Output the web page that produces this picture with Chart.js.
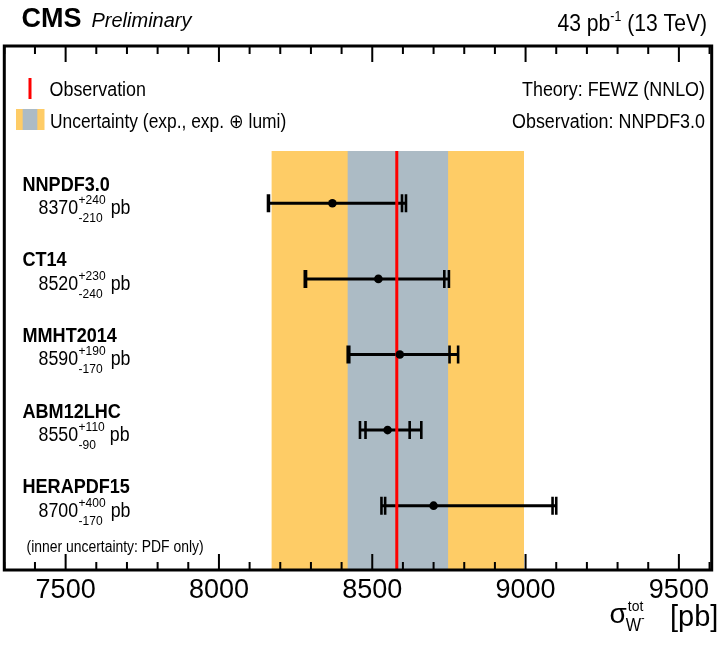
<!DOCTYPE html>
<html>
<head>
<meta charset="utf-8">
<script src="https://cdn.jsdelivr.net/npm/chart.js@4.4.1/dist/chart.umd.min.js"></script>
<style>
  html, body { margin: 0; padding: 0; background: #fff; }
  canvas { display: block; }
</style>
</head>
<body>
<canvas id="chart" width="727" height="646" style="width:727px;height:646px"></canvas>
<script>
// PDF sets and predicted W- cross sections [pb]
const pdfNames = ['NNPDF3.0', 'CT14', 'MMHT2014', 'ABM12LHC', 'HERAPDF15']
const central = [8370, 8520, 8590, 8550, 8700]
const errUp = [240, 230, 190, 110, 400]
const errDown = [210, 240, 170, 90, 170]
// inner error bars (PDF only)
const pdfLow = [8163, 8284, 8425, 8478, 8542]
const pdfHigh = [8597, 8735, 8752, 8622, 9088]

// measurement
const obsValue = 8580
const expBand = [8419, 8748]
const lumiBand = [8171, 8995]

const xMin = 7300
const xMax = 9607
const xTicks = [7500, 8000, 8500, 9000, 9500]

// row layout (rows are 0..4, reversed axis)
const yMin = -2.081
const yMax = 4.851
const bandTop = -0.692
const capHalf = 0.119

const FONT = "'Liberation Sans', Arial, Helvetica, sans-serif"
const YELLOW = 'rgb(254, 204, 102)'
const GREY = 'rgb(172, 187, 197)'
const RED = 'rgb(255, 0, 0)'

// build line segments separated by gaps
let barLines = []
let capLines = []
central.forEach((c, i) => {
  barLines.push({ x: c - errDown[i], y: i }, { x: c + errUp[i], y: i }, { x: c, y: null })
  ;[c - errDown[i], c + errUp[i], pdfLow[i], pdfHigh[i]].forEach((v) => {
    capLines.push({ x: v, y: i - capHalf }, { x: v, y: i + capHalf }, { x: v, y: null })
  })
})

// draws condensed text, returns its width
function txt(ctx, s, x, y, font, sx, align) {
  ctx.save()
  ctx.font = font
  ctx.fillStyle = '#000'
  ctx.textBaseline = 'alphabetic'
  const w = ctx.measureText(s).width * sx
  let x0 = x
  if (align === 'right') x0 = x - w
  ctx.translate(x0, y)
  ctx.scale(sx, 1)
  ctx.textAlign = 'left'
  ctx.fillText(s, 0, 0)
  ctx.restore()
  return w
}

function width(ctx, s, font, sx) {
  ctx.save()
  ctx.font = font
  const w = ctx.measureText(s).width * sx
  ctx.restore()
  return w
}

const cmsPlugin = {
  id: 'cmsText',
  afterDatasetsDraw(chart) {
    const { ctx, chartArea: a, scales } = chart
    const x = scales.x
    const y = scales.y

    // inward tick marks, top and bottom
    ctx.save()
    ctx.strokeStyle = '#000'
    ctx.lineWidth = 2
    for (let v = 7300; v <= 9600; v += 100) {
      const px = x.getPixelForValue(v)
      const len = v % 500 === 0 ? 16 : 8
      ctx.beginPath()
      ctx.moveTo(px, a.bottom)
      ctx.lineTo(px, a.bottom - len)
      ctx.moveTo(px, a.top)
      ctx.lineTo(px, a.top + len)
      ctx.stroke()
    }
    // frame
    ctx.lineWidth = 3
    ctx.strokeRect(a.left, a.top, a.right - a.left, a.bottom - a.top)
    ctx.restore()

    // header
    txt(ctx, 'CMS', 21.5, 27, 'bold 27px ' + FONT, 1)
    txt(ctx, 'Preliminary', 91.5, 27, 'italic 20px ' + FONT, 1)
    const hf = '24px ' + FONT
    const sf = '14px ' + FONT
    const tail = ' (13 TeV)'
    let wTail = width(ctx, tail, hf, 0.88)
    let wSup = width(ctx, '-1', sf, 0.88)
    let wHead = width(ctx, '43 pb', hf, 0.88)
    let hx = 707 - wTail - wSup - wHead
    hx += txt(ctx, '43 pb', hx, 31, hf, 0.88)
    hx += txt(ctx, '-1', hx, 21, sf, 0.88)
    txt(ctx, tail, hx, 31, hf, 0.88)

    // legend
    ctx.save()
    ctx.fillStyle = RED
    ctx.fillRect(28.5, 78, 3, 21)
    ctx.fillStyle = YELLOW
    ctx.fillRect(16, 109, 28.5, 21)
    ctx.fillStyle = GREY
    ctx.fillRect(22.7, 109, 14.6, 21)
    ctx.restore()
    const lf = '20px ' + FONT
    txt(ctx, 'Observation', 49.5, 96, lf, 0.895)
    txt(ctx, 'Uncertainty (exp., exp. \u2295 lumi)', 50, 128, lf, 0.87)
    txt(ctx, 'Theory: FEWZ (NNLO)', 705, 96, lf, 0.895, 'right')
    txt(ctx, 'Observation: NNPDF3.0', 705, 128, lf, 0.895, 'right')

    // row labels
    pdfNames.forEach((name, i) => {
      const py = y.getPixelForValue(i)
      txt(ctx, name, 22.5, py - 12.5, 'bold 21px ' + FONT, 0.86)
      let vx = 38.5
      const w1 = txt(ctx, String(central[i]), vx, py + 11, '20px ' + FONT, 0.89)
      vx += w1 + 0.5
      const wu = txt(ctx, '+' + errUp[i], vx, py + 1, '13.5px ' + FONT, 0.89)
      const wd = txt(ctx, '-' + errDown[i], vx, py + 19, '13.5px ' + FONT, 0.89)
      vx += Math.max(wu, wd) + 5
      txt(ctx, 'pb', vx, py + 11, '20px ' + FONT, 0.89)
    })
    txt(ctx, '(inner uncertainty: PDF only)', 26.5, 552, '16px ' + FONT, 0.87)

    // x axis title
    let ax = 609.5
    ax += txt(ctx, '\u03c3', ax, 623, '28px ' + FONT, 1)
    txt(ctx, 'tot', ax + 1, 611, '15.5px ' + FONT, 0.9)
    const ww = txt(ctx, 'W', ax - 1, 631, '18px ' + FONT, 0.9)
    txt(ctx, '-', ax - 1 + ww, 622, '12px ' + FONT, 0.9)
    txt(ctx, '[pb]', 670, 626, '29px ' + FONT, 1)
  }
}

const ctx = document.getElementById('chart').getContext('2d')

const chart = new Chart(ctx, {
  type: 'line',
  data: {
    datasets: [
      {
        // central values
        type: 'scatter',
        data: central.map((c, i) => ({ x: c, y: i })),
        pointRadius: 4.3,
        pointBackgroundColor: '#000',
        pointBorderWidth: 0,
        showLine: false,
      },
      {
        // observation
        data: [{ x: obsValue, y: bandTop }, { x: obsValue, y: yMax }],
        borderColor: RED,
        borderWidth: 3,
        pointRadius: 0,
        fill: false,
      },
      {
        data: capLines,
        borderColor: '#000',
        borderWidth: 2.6,
        borderCapStyle: 'butt',
        pointRadius: 0,
        spanGaps: false,
        fill: false,
      },
      {
        data: barLines,
        borderColor: '#000',
        borderWidth: 3,
        borderCapStyle: 'butt',
        pointRadius: 0,
        spanGaps: false,
        fill: false,
      },
      {
        // exp. uncertainty
        data: [{ x: expBand[0], y: bandTop }, { x: expBand[1], y: bandTop }],
        borderWidth: 0,
        pointRadius: 0,
        backgroundColor: GREY,
        fill: 'start',
      },
      {
        // exp. + lumi uncertainty
        data: [{ x: lumiBand[0], y: bandTop }, { x: lumiBand[1], y: bandTop }],
        borderWidth: 0,
        pointRadius: 0,
        backgroundColor: YELLOW,
        fill: 'start',
      },
    ],
  },
  options: {
    responsive: false,
    animation: false,
    layout: {
      padding: { left: 3.3, right: 15.3, top: 46, bottom: 0 },
    },
    plugins: {
      legend: { display: false },
      tooltip: { enabled: false },
    },
    scales: {
      x: {
        type: 'linear',
        min: xMin,
        max: xMax,
        grid: { display: false, drawTicks: false },
        border: { display: false },
        afterBuildTicks: (s) => {
          s.ticks = xTicks.map((v) => ({ value: v }))
        },
        afterFit: (s) => {
          s.height = 76
        },
        ticks: {
          autoSkip: false,
          maxRotation: 0,
          padding: 4,
          color: '#000',
          font: { family: FONT, size: 27 },
          callback: (v) => String(v),
        },
      },
      y: {
        type: 'linear',
        display: false,
        reverse: true,
        min: yMin,
        max: yMax,
      },
    },
  },
  plugins: [cmsPlugin],
})
</script>
</body>
</html>
